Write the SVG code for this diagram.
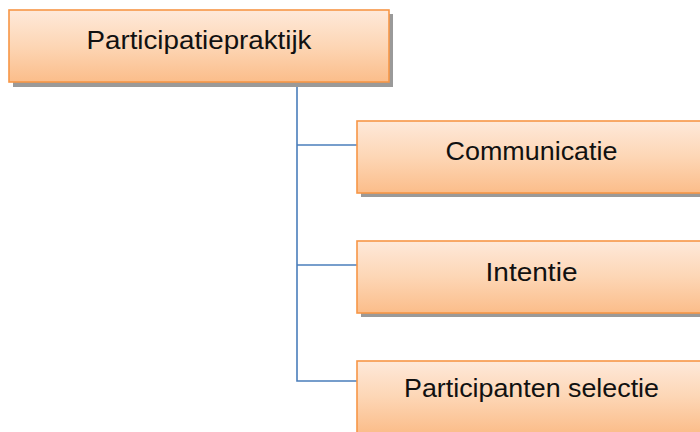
<svg xmlns="http://www.w3.org/2000/svg" width="700" height="432" viewBox="0 0 700 432">
  <style>
    .box { fill: url(#boxFill); stroke: #f79646; stroke-width: 1.6; }
    .shadow { fill: #9a9a9a; }
    .label { font-family: "Liberation Sans", Arial, sans-serif; font-size: 26px; fill: #111; text-anchor: middle; }
    .link { fill: none; stroke: #4a7ebb; stroke-width: 1.6; }
  </style>
  <defs>
    <linearGradient id="boxFill" x1="0" y1="0" x2="0" y2="1">
      <stop offset="0" stop-color="#fee9da"/>
      <stop offset="0.5" stop-color="#fdd6b5"/>
      <stop offset="1" stop-color="#fbbd8a"/>
    </linearGradient>
  </defs>

  <!-- connectors -->
  <g id="connectors">
    <path class="link" d="M297,82 V381 H357"/>
    <path class="link" d="M297,145 H357"/>
    <path class="link" d="M297,265 H357"/>
  </g>

  <!-- root -->
  <g id="participatiepraktijk">
    <rect class="shadow" x="13" y="14" width="380" height="73"/>
    <rect class="box" x="9" y="10" width="380" height="72"/>
    <text class="label" x="199" y="49" textLength="225" lengthAdjust="spacingAndGlyphs">Participatiepraktijk</text>
  </g>

  <!-- children -->
  <g id="communicatie">
    <rect class="shadow" x="361" y="125" width="349" height="72"/>
    <rect class="box" x="357" y="121" width="349" height="72"/>
    <text class="label" x="531.5" y="160" textLength="172" lengthAdjust="spacingAndGlyphs">Communicatie</text>
  </g>

  <g id="intentie">
    <rect class="shadow" x="361" y="245" width="349" height="72"/>
    <rect class="box" x="357" y="241" width="349" height="72"/>
    <text class="label" x="531.5" y="281" textLength="92" lengthAdjust="spacingAndGlyphs">Intentie</text>
  </g>

  <g id="participanten-selectie">
    <rect class="shadow" x="361" y="365" width="349" height="72"/>
    <rect class="box" x="357" y="361" width="349" height="72"/>
    <text class="label" x="531.5" y="397" textLength="255" lengthAdjust="spacingAndGlyphs">Participanten selectie</text>
  </g>
</svg>
